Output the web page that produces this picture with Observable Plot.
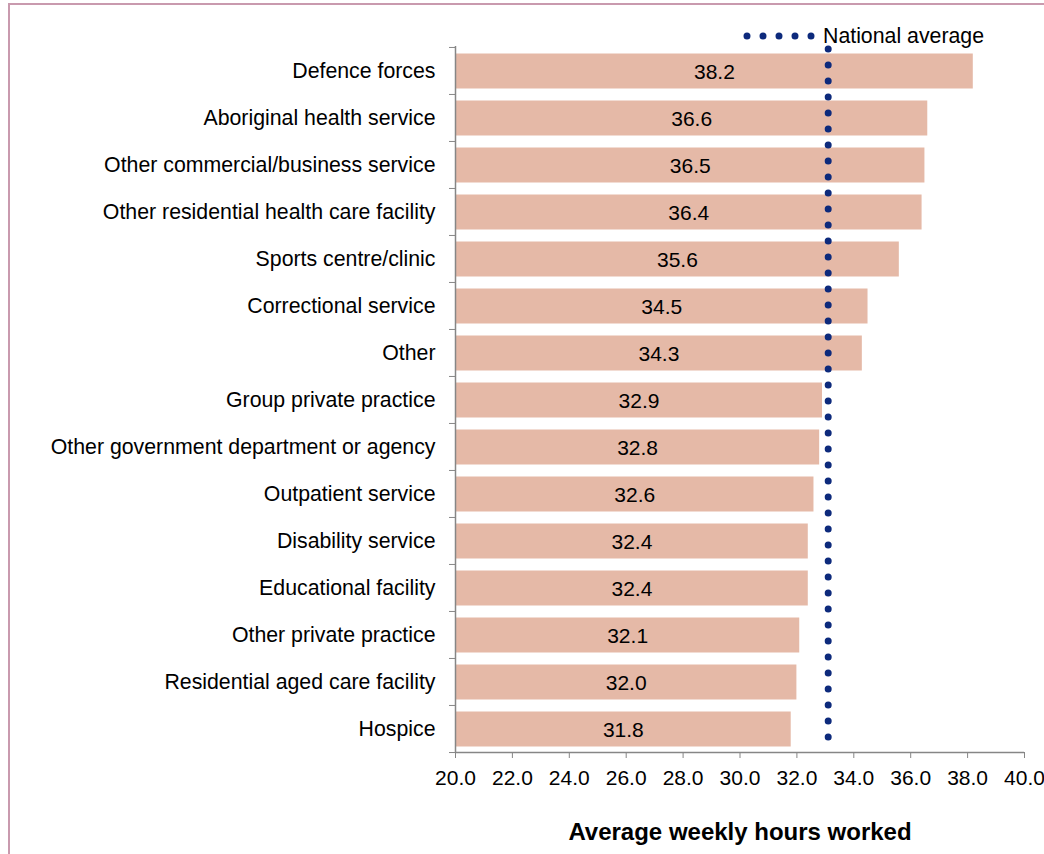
<!DOCTYPE html>
<html>
<head>
<meta charset="utf-8">
<script src="https://cdn.jsdelivr.net/npm/d3@7"></script>
<script src="https://cdn.jsdelivr.net/npm/@observablehq/plot@0.6"></script>
<style>
  html, body { margin: 0; padding: 0; background: #fff; overflow: hidden; }
  #wrap { position: relative; width: 1044px; height: 854px; }
  #border { position: absolute; left: 8px; top: 3px; width: 1100px; height: 900px;
            border: 2px solid #c99aae; box-sizing: border-box; pointer-events: none; }
  #legend { position: absolute; left: 743px; top: 24px; height: 24px; display: flex; align-items: center;
            font: 21.3px "Liberation Sans", Arial, sans-serif; color: #000; }
  #legend span { margin-left: 6px; }
</style>
</head>
<body>
<div id="wrap">
  <div id="chart"></div>
  <div id="legend">
    <svg width="74" height="10"><line x1="4" x2="69" y1="5" y2="5" stroke="#0d2a7c" stroke-width="7"
      stroke-linecap="round" stroke-dasharray="0 16"/></svg>
    <span>National average</span>
  </div>
  <div id="border"></div>
</div>
<script>
// Workplace settings, ordered from most to fewest average weekly hours
const categories = [
  "Defence forces",
  "Aboriginal health service",
  "Other commercial/business service",
  "Other residential health care facility",
  "Sports centre/clinic",
  "Correctional service",
  "Other",
  "Group private practice",
  "Other government department or agency",
  "Outpatient service",
  "Disability service",
  "Educational facility",
  "Other private practice",
  "Residential aged care facility",
  "Hospice"
];
const hours = [38.2, 36.6, 36.5, 36.4, 35.6, 34.5, 34.3, 32.9, 32.8, 32.6, 32.4, 32.4, 32.1, 32.0, 31.8];
const nationalAverage = 33.1;
const xTicks = [20, 22, 24, 26, 28, 30, 32, 34, 36, 38, 40];
const axisTitle = "Average weekly hours worked";

const rows = categories.map((category, i) => ({category, value: hours[i]}));

const W = 1044, H = 854;
const mTop = 46, mBottom = 102, mLeft = 455, mRight = 20;
const step = (H - mTop - mBottom) / categories.length;
const axisGrey = "#868686";
const fmt = d3.format(".1f");

const chart = Plot.plot({
  width: W,
  height: H,
  marginTop: mTop,
  marginBottom: mBottom,
  marginLeft: mLeft,
  marginRight: mRight,
  style: {fontFamily: "'Liberation Sans', Arial, sans-serif", fontSize: "21px", color: "#000", background: "#fff", overflow: "visible"},
  x: {domain: [20, 40], label: null},
  y: {domain: categories, padding: 0, label: null},
  marks: [
    Plot.barX(rows, {x1: 20, x2: "value", y: "category", fill: "#e5b9a7", insetTop: 6.5, insetBottom: 5.5}),
    Plot.text(rows, {x: d => (20 + d.value) / 2, y: "category", text: d => fmt(d.value), fill: "#000", fontSize: 21, dy: 1.5}),
    // category boundary ticks
    Plot.axisY({tickSize: 6, tickFormat: () => "", stroke: axisGrey, dy: -step / 2}),
    Plot.axisY({ticks: [categories[categories.length - 1]], tickSize: 6, tickFormat: () => "", stroke: axisGrey, dy: step / 2}),
    // category labels
    Plot.axisY({tickSize: 0, tickPadding: 20, fill: "#000", fontSize: 21.3}),
    Plot.axisX({ticks: xTicks, tickFormat: fmt, tickSize: 6, tickPadding: 12, stroke: axisGrey, fill: "#000", fontSize: 21}),
    Plot.ruleX([20], {stroke: axisGrey, strokeWidth: 1.5}),
    Plot.ruleY([categories[categories.length - 1]], {x1: 20, x2: 40, dy: step / 2, stroke: axisGrey, strokeWidth: 1.5}),
    Plot.ruleX([nationalAverage], {stroke: "#0d2a7c", strokeWidth: 7, strokeLinecap: "round", strokeDasharray: "0 16", strokeDashoffset: -3}),
    Plot.text([axisTitle], {frameAnchor: "bottom", dy: 87, fontWeight: "bold", fontSize: 24, fill: "#000"})
  ]
});
document.getElementById("chart").append(chart);
</script>
</body>
</html>
